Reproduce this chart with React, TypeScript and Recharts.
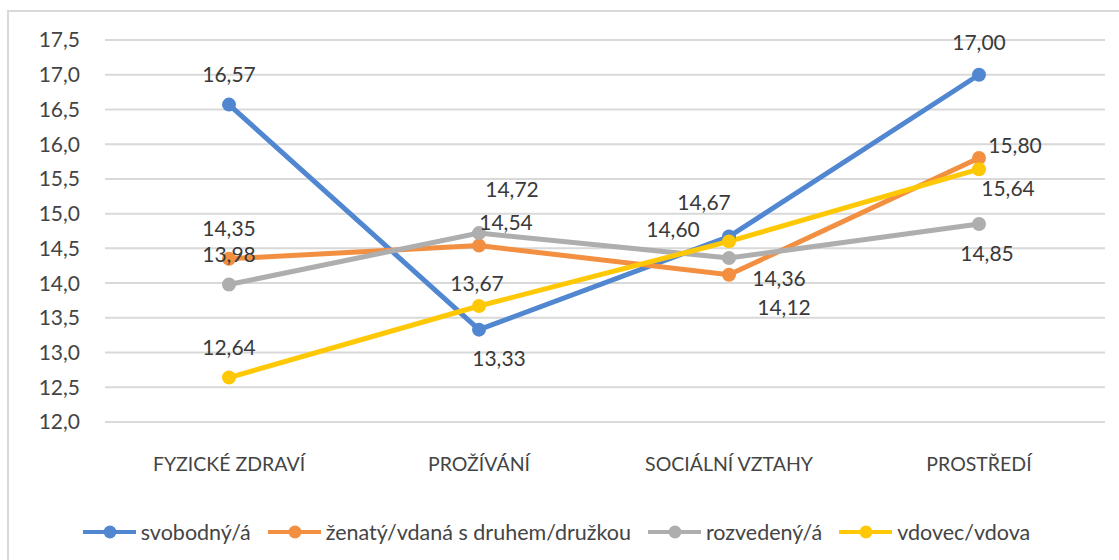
import React from "react"
import { LineChart, Line, XAxis, YAxis, CartesianGrid, Legend } from "recharts"

const categories = ["FYZICKÉ ZDRAVÍ", "PROŽÍVÁNÍ", "SOCIÁLNÍ VZTAHY", "PROSTŘEDÍ"]
const svobodny = [16.57, 13.33, 14.67, 17.0]
const zenaty = [14.35, 14.54, 14.12, 15.8]
const rozvedeny = [13.98, 14.72, 14.36, 14.85]
const vdovec = [12.64, 13.67, 14.6, 15.64]
const yTicks = [12, 12.5, 13, 13.5, 14, 14.5, 15, 15.5, 16, 16.5, 17, 17.5]

const series = [
  { key: "svobodny", name: "svobodný/á", color: "#5187D0", values: svobodny },
  { key: "zenaty", name: "ženatý/vdaná s druhem/družkou", color: "#F28F40", values: zenaty },
  { key: "rozvedeny", name: "rozvedený/á", color: "#AEAEAE", values: rozvedeny },
  { key: "vdovec", name: "vdovec/vdova", color: "#FFC805", values: vdovec },
]

// where each data label sits relative to its point (the labels were moved by hand in the original)
const labelShift: Record<string, number[][]> = {
  svobodny: [[0, -31], [20, 28], [-25, -35], [0, -33]],
  zenaty: [[0, -31], [27, -24], [55, 32], [36, -14]],
  rozvedeny: [[0, -31], [33, -45], [50, 19], [8, 28]],
  vdovec: [[0, -31], [-2, -24], [-56, -13], [29, 18]],
}

const chartData = categories.map((name, i) => ({
  name,
  svobodny: svobodny[i],
  zenaty: zenaty[i],
  rozvedeny: rozvedeny[i],
  vdovec: vdovec[i],
}))

const FONT = "Lato, 'Open Sans', sans-serif"

function makeLabel(key: string) {
  return (props: any) => {
    const { x, y, index, value } = props
    const [dx, dy] = labelShift[key][index]
    return (
      <text
        key={key + index}
        x={x + dx}
        y={y + dy}
        textAnchor="middle"
        dominantBaseline="central"
        fill="#3a3a3a"
        fontSize={21}
        fontFamily={FONT}
      >
        {Number(value).toFixed(2).replace(".", ",")}
      </text>
    )
  }
}

function LegendContent() {
  return (
    <div
      style={{
        display: "flex",
        justifyContent: "center",
        alignItems: "center",
        height: 36,
        fontFamily: FONT,
        fontSize: 21.5,
        color: "#444",
      }}
    >
      {series.map((s) => (
        <div key={s.key} style={{ display: "flex", alignItems: "center", marginRight: 17 }}>
          <svg width={53} height={16}>
            <line x1={0} y1={8} x2={53} y2={8} stroke={s.color} strokeWidth={4} />
            <circle cx={27} cy={8} r={6.5} fill={s.color} />
          </svg>
          <span style={{ marginLeft: 5 }}>{s.name}</span>
        </div>
      ))}
    </div>
  )
}

export default function App() {
  return (
    <div
      style={{
        position: "absolute",
        left: 0,
        top: 0,
        width: 1119,
        height: 560,
        overflow: "hidden",
        background: "#fff",
      }}
    >
      <div
        style={{
          position: "absolute",
          left: 7,
          top: 10,
          width: 1200,
          height: 600,
          border: "2px solid #d9d9d9",
        }}
      />
      <LineChart
        width={1119}
        height={560}
        data={chartData}
        margin={{ top: 40, right: 14, left: 25, bottom: 10 }}
      >
        <CartesianGrid vertical={false} stroke="#d9d9d9" strokeWidth={2} />
        <XAxis
          dataKey="name"
          axisLine={false}
          tickLine={false}
          tickSize={0}
          tickMargin={35}
          height={92}
          padding={{ left: 124, right: 126 }}
          tick={{ fill: "#444", fontSize: 19.5, fontFamily: FONT }}
        />
        <YAxis
          width={80}
          domain={[12, 17.5]}
          ticks={yTicks}
          axisLine={false}
          tickLine={false}
          tickSize={0}
          tickMargin={25}
          tickFormatter={(v: number) => v.toFixed(1).replace(".", ",")}
          tick={{ fill: "#444", fontSize: 21, fontFamily: FONT }}
        />
        <Legend verticalAlign="bottom" content={<LegendContent />} />
        {series.map((s) => (
          <Line
            key={s.key}
            dataKey={s.key}
            name={s.name}
            stroke={s.color}
            strokeWidth={5}
            dot={{ r: 7, fill: s.color, stroke: s.color, strokeWidth: 0 }}
            activeDot={false}
            isAnimationActive={false}
            label={makeLabel(s.key)}
          />
        ))}
      </LineChart>
    </div>
  )
}
